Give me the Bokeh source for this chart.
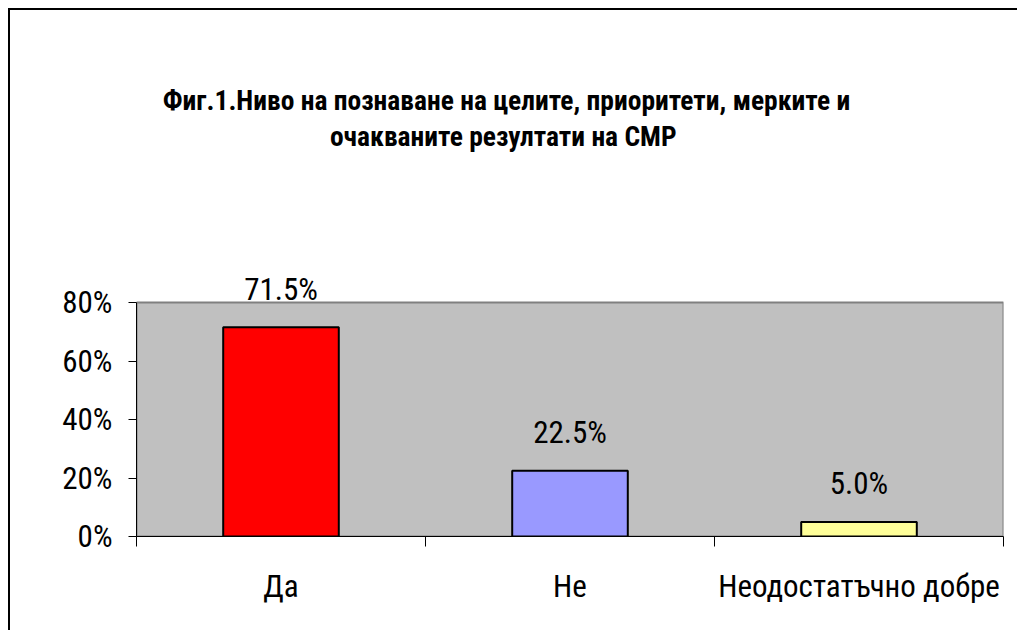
from bokeh.plotting import figure
from bokeh.models import (ColumnDataSource, FixedTicker, NumeralTickFormatter, LinearAxis,
                          LabelSet, Label, Range1d)
from bokeh.core.properties import value
from bokeh.embed import file_html
from bokeh.resources import INLINE

categories = ["Да", "Не", "Неодостатъчно добре"]
values = [0.715, 0.225, 0.05]
value_labels = ["71.5%", "22.5%", "5.0%"]
colors = ["#FF0000", "#9999FF", "#FFFF99"]
title_lines = ["Фиг.1.Ниво на познаване на целите, приоритети, мерките и",
               "очакваните резултати на  СМР"]
y_ticks = [0, 0.2, 0.4, 0.6, 0.8]

FONT = "Roboto Condensed"

ymax = y_ticks[-1]
px = ymax / 234.0          # data units per pixel
ytop = ymax + 292 * px     # frame reaches the top of the figure

xpos = [i + 0.5 for i in range(len(categories))]
src = ColumnDataSource(dict(x=xpos, top=values, color=colors, lab=value_labels))

p = figure(width=1009, height=622, output_backend="svg", toolbar_location=None,
           x_range=Range1d(0, len(categories)), y_range=Range1d(0, ytop),
           min_border_left=126, min_border_right=16, min_border_top=0, min_border_bottom=96,
           x_axis_type=None)
p.styles = {"margin-left": "8px", "margin-top": "8px",
            "border-left": "2px solid #000000", "border-top": "2px solid #000000"}

p.background_fill_color = "#FFFFFF"
p.border_fill_color = "#FFFFFF"
p.outline_line_color = None
p.xgrid.visible = False
p.ygrid.visible = False

# plot area
p.quad(left=[0], right=[len(categories)], bottom=[0], top=[ymax],
       fill_color="#C0C0C0", line_color="#808080", line_width=2)

p.vbar(x="x", top="top", width=0.4, bottom=0, fill_color="color",
       line_color="#000000", line_width=2, source=src)

# y axis
ya = p.yaxis[0]
ya.ticker = FixedTicker(ticks=y_ticks)
ya.formatter = NumeralTickFormatter(format="0%")
ya.bounds = (0, ymax)
ya.major_label_text_font = FONT
ya.major_label_text_font_size = "31px"
ya.major_label_text_color = "#000000"
ya.major_tick_out = 8
ya.major_tick_in = 0
ya.minor_tick_out = 0
ya.minor_tick_in = 0
ya.axis_line_color = "#000000"
ya.major_tick_line_color = "#000000"
ya.major_label_standoff = 16

# x axis: boundary ticks
xa1 = LinearAxis(ticker=FixedTicker(ticks=list(range(len(categories) + 1))),
                 major_label_overrides={i: "" for i in range(len(categories) + 1)})
xa1.major_tick_out = 10
xa1.major_tick_in = 0
xa1.minor_tick_out = 0
xa1.axis_line_color = "#000000"
xa1.major_tick_line_color = "#000000"
xa1.major_label_text_font_size = "1px"
p.add_layout(xa1, "below")

# x axis: category labels
xa2 = LinearAxis(ticker=FixedTicker(ticks=xpos),
                 major_label_overrides={x: c for x, c in zip(xpos, categories)})
xa2.major_tick_out = 0
xa2.major_tick_in = 0
xa2.minor_tick_out = 0
xa2.axis_line_color = None
xa2.major_label_text_font = FONT
xa2.major_label_text_font_size = "31px"
xa2.major_label_text_color = "#000000"
xa2.major_label_standoff = 21
p.add_layout(xa2, "below")

# value labels
p.add_layout(LabelSet(x="x", y="top", text="lab", source=src, text_align="center",
                      text_baseline="middle", y_offset=38, text_font=value(FONT),
                      text_font_size=value("31px"), text_color="#000000"))

# title
for i, line in enumerate(title_lines):
    p.add_layout(Label(x=1.28, y=ymax, y_offset=202 - 36 * i, text=line,
                       text_align="center", text_baseline="middle", text_font=FONT,
                       text_font_style="bold", text_font_size="27.5px",
                       text_color="#000000"))

open("out.html", "w").write(file_html(p, INLINE))
